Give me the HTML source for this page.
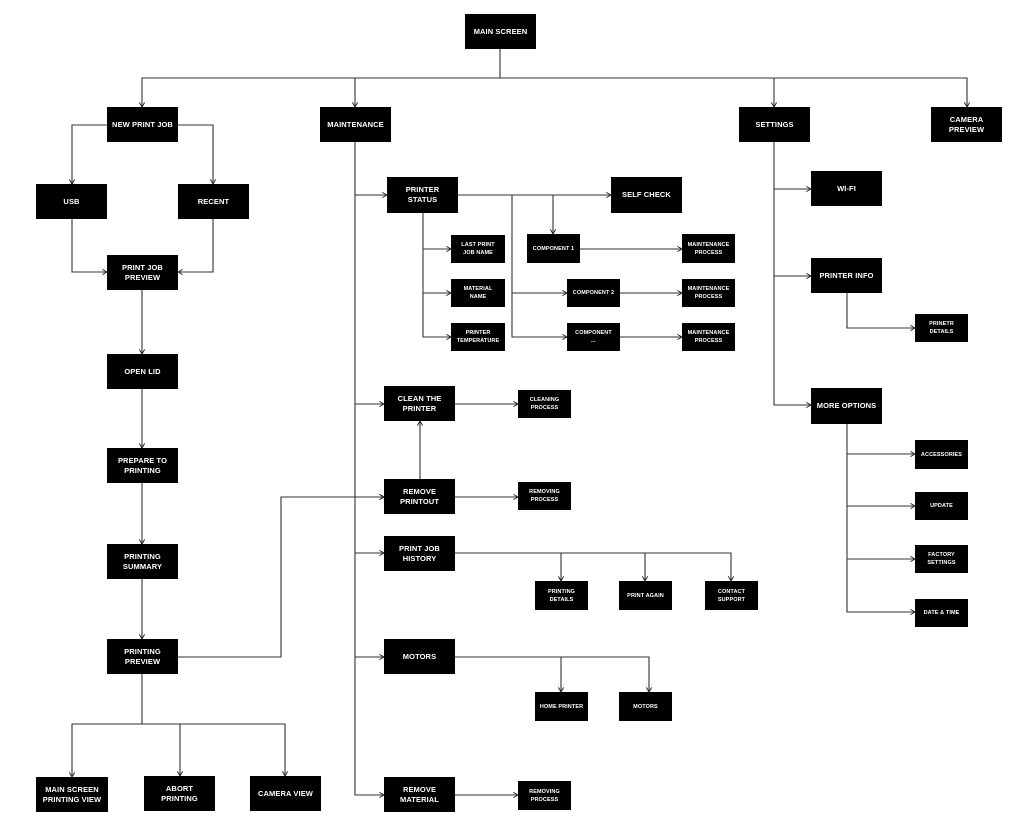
<!DOCTYPE html>
<html><head><meta charset="utf-8"><style>
body{margin:0;background:#fff;width:1024px;height:838px;position:relative;overflow:hidden;font-family:"Liberation Sans",sans-serif}
.b{position:absolute;background:#000;color:#fff;display:flex;align-items:center;justify-content:center;text-align:center;font-size:7.5px;line-height:10px;font-weight:bold;letter-spacing:0.1px}
.s{font-size:5.5px;line-height:8px}
svg{position:absolute;left:0;top:0}
</style></head><body>
<svg width="1024" height="838" viewBox="0 0 1024 838">
<defs>
<marker id="a" viewBox="0 0 10 10" refX="9" refY="5" markerWidth="6" markerHeight="6" orient="auto"><path d="M2 1L9 5L2 9" fill="none" stroke="#222" stroke-width="1.4"/></marker>
</defs>
<g fill="none" stroke="#333" stroke-width="1.1" marker-end="url(#a)">
<path d="M500 49V78H142V107"/><path d="M500 78H355V107"/><path d="M500 78H774V107"/><path d="M500 78H967V107"/>
<path d="M107 125H72V184"/><path d="M178 125H213V184"/>
<path d="M72 219V272H107"/><path d="M213 219V272H178"/>
<path d="M142 290V354"/><path d="M142 389V448"/><path d="M142 483V544"/><path d="M142 579V639"/>
<path d="M142 674V724H72V777"/><path d="M142 724H180V776"/><path d="M142 724H285V776"/>
<path d="M178 657H281V497H384"/>
<path d="M355 142V795H384"/><path d="M355 195H387"/><path d="M355 404H384"/><path d="M355 497H384"/><path d="M355 553H384"/><path d="M355 657H384"/>
<path d="M458 195H611"/><path d="M512 195V337H567"/><path d="M512 293H567"/><path d="M553 195V234"/>
<path d="M423 213V337H451"/><path d="M423 249H451"/><path d="M423 293H451"/>
<path d="M580 249H682"/><path d="M620 293H682"/><path d="M620 337H682"/>
<path d="M455 404H518"/><path d="M455 497H518"/><path d="M420 479V421"/>
<path d="M455 553H731V581"/><path d="M561 553V581"/><path d="M645 553V581"/>
<path d="M455 657H649V692"/><path d="M561 657V692"/>
<path d="M455 795H518"/>
<path d="M774 142V405H811"/><path d="M774 189H811"/><path d="M774 276H811"/>
<path d="M847 293V328H915"/>
<path d="M847 423V612H915"/><path d="M847 454H915"/><path d="M847 506H915"/><path d="M847 559H915"/>
</g>
</svg>
<div class="b" style="left:465px;top:14px;width:71px;height:35px">MAIN SCREEN</div>
<div class="b" style="left:107px;top:107px;width:71px;height:35px">NEW PRINT JOB</div>
<div class="b" style="left:320px;top:107px;width:71px;height:35px">MAINTENANCE</div>
<div class="b" style="left:739px;top:107px;width:71px;height:35px">SETTINGS</div>
<div class="b" style="left:931px;top:107px;width:71px;height:35px">CAMERA<br>PREVIEW</div>
<div class="b" style="left:36px;top:184px;width:71px;height:35px">USB</div>
<div class="b" style="left:178px;top:184px;width:71px;height:35px">RECENT</div>
<div class="b" style="left:107px;top:255px;width:71px;height:35px">PRINT JOB<br>PREVIEW</div>
<div class="b" style="left:107px;top:354px;width:71px;height:35px">OPEN LID</div>
<div class="b" style="left:107px;top:448px;width:71px;height:35px">PREPARE TO<br>PRINTING</div>
<div class="b" style="left:107px;top:544px;width:71px;height:35px">PRINTING<br>SUMMARY</div>
<div class="b" style="left:107px;top:639px;width:71px;height:35px">PRINTING<br>PREVIEW</div>
<div class="b" style="left:36px;top:777px;width:72px;height:35px">MAIN SCREEN<br>PRINTING VIEW</div>
<div class="b" style="left:144px;top:776px;width:71px;height:35px">ABORT<br>PRINTING</div>
<div class="b" style="left:250px;top:776px;width:71px;height:35px">CAMERA VIEW</div>
<div class="b" style="left:387px;top:177px;width:71px;height:36px">PRINTER<br>STATUS</div>
<div class="b" style="left:611px;top:177px;width:71px;height:36px">SELF CHECK</div>
<div class="b s" style="left:451px;top:235px;width:54px;height:28px">LAST PRINT<br>JOB NAME</div>
<div class="b s" style="left:451px;top:279px;width:54px;height:28px">MATERIAL<br>NAME</div>
<div class="b s" style="left:451px;top:323px;width:54px;height:28px">PRINTER<br>TEMPERATURE</div>
<div class="b s" style="left:527px;top:234px;width:53px;height:29px">COMPONENT 1</div>
<div class="b s" style="left:567px;top:279px;width:53px;height:28px">COMPONENT 2</div>
<div class="b s" style="left:567px;top:323px;width:53px;height:28px">COMPONENT<br>...</div>
<div class="b s" style="left:682px;top:234px;width:53px;height:29px">MAINTENANCE<br>PROCESS</div>
<div class="b s" style="left:682px;top:279px;width:53px;height:28px">MAINTENANCE<br>PROCESS</div>
<div class="b s" style="left:682px;top:323px;width:53px;height:28px">MAINTENANCE<br>PROCESS</div>
<div class="b" style="left:384px;top:386px;width:71px;height:35px">CLEAN THE<br>PRINTER</div>
<div class="b s" style="left:518px;top:390px;width:53px;height:28px">CLEANING<br>PROCESS</div>
<div class="b" style="left:384px;top:479px;width:71px;height:35px">REMOVE<br>PRINTOUT</div>
<div class="b s" style="left:518px;top:482px;width:53px;height:28px">REMOVING<br>PROCESS</div>
<div class="b" style="left:384px;top:536px;width:71px;height:35px">PRINT JOB<br>HISTORY</div>
<div class="b s" style="left:535px;top:581px;width:53px;height:29px">PRINTING<br>DETAILS</div>
<div class="b s" style="left:619px;top:581px;width:53px;height:29px">PRINT AGAIN</div>
<div class="b s" style="left:705px;top:581px;width:53px;height:29px">CONTACT<br>SUPPORT</div>
<div class="b" style="left:384px;top:639px;width:71px;height:35px">MOTORS</div>
<div class="b s" style="left:535px;top:692px;width:53px;height:29px">HOME PRINTER</div>
<div class="b s" style="left:619px;top:692px;width:53px;height:29px">MOTORS</div>
<div class="b" style="left:384px;top:777px;width:71px;height:35px">REMOVE<br>MATERIAL</div>
<div class="b s" style="left:518px;top:781px;width:53px;height:29px">REMOVING<br>PROCESS</div>
<div class="b" style="left:811px;top:171px;width:71px;height:35px">WI-FI</div>
<div class="b" style="left:811px;top:258px;width:71px;height:35px">PRINTER INFO</div>
<div class="b s" style="left:915px;top:314px;width:53px;height:28px">PRINETR<br>DETAILS</div>
<div class="b" style="left:811px;top:388px;width:71px;height:36px">MORE OPTIONS</div>
<div class="b s" style="left:915px;top:440px;width:53px;height:29px">ACCESSORIES</div>
<div class="b s" style="left:915px;top:492px;width:53px;height:28px">UPDATE</div>
<div class="b s" style="left:915px;top:545px;width:53px;height:28px">FACTORY<br>SETTINGS</div>
<div class="b s" style="left:915px;top:599px;width:53px;height:28px">DATE &amp; TIME</div>
</body></html>
